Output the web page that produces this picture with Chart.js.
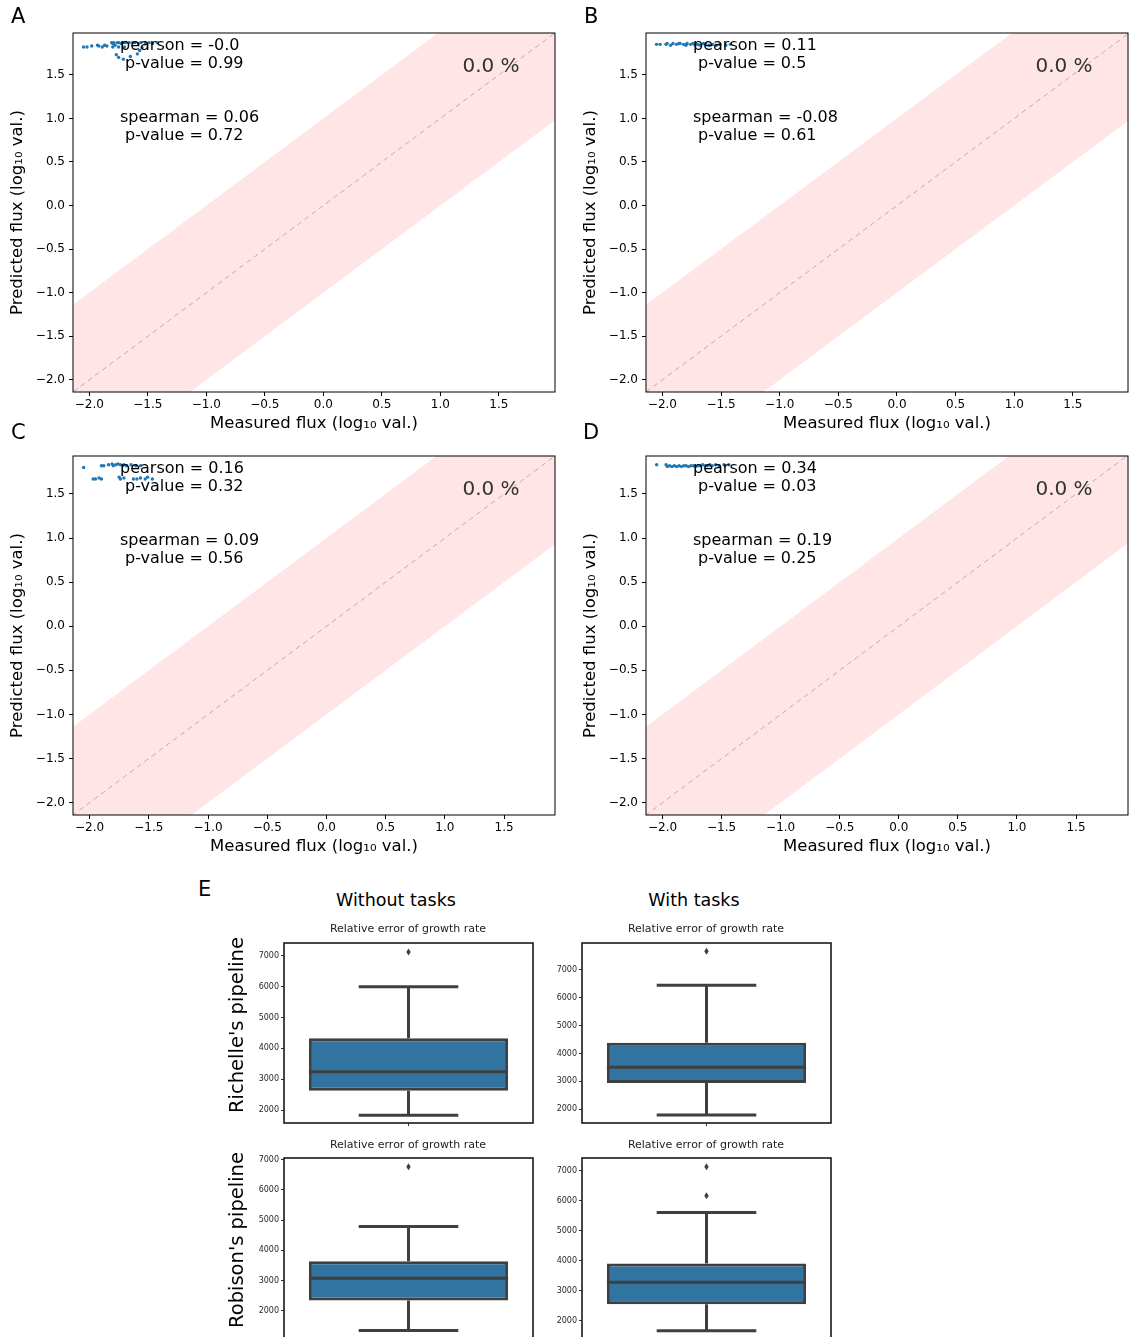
<!DOCTYPE html>
<html>
<head>
<meta charset="utf-8">
<script src="https://cdn.jsdelivr.net/npm/chart.js@4.4.0/dist/chart.umd.min.js"></script>
<style>
    body { margin: 0; background: #fff; font-family: 'DejaVu Sans', sans-serif; }
    #page { position: relative; width: 1129px; height: 1337px; overflow: hidden; background: #fff; }
    canvas { position: absolute; }
    .txt { position: absolute; color: #000; white-space: nowrap; }
    .center { transform: translate(-50%, -50%); }
    .rot { transform: translate(-50%, -50%) rotate(-90deg); }
</style>
</head>
<body>
<div id="page">
    <canvas id="chartA" width="565" height="440" style="left:0;top:0"></canvas>
    <canvas id="chartB" width="565" height="440" style="left:573px;top:0"></canvas>
    <canvas id="chartC" width="565" height="440" style="left:0;top:423px"></canvas>
    <canvas id="chartD" width="565" height="440" style="left:573px;top:423px"></canvas>

    <canvas id="box1" width="299" height="200" style="left:244px;top:933px"></canvas>
    <canvas id="box2" width="299" height="200" style="left:542px;top:933px"></canvas>
    <canvas id="box3" width="299" height="202" style="left:244px;top:1148px"></canvas>
    <canvas id="box4" width="299" height="202" style="left:542px;top:1148px"></canvas>

    <div class="txt" style="left:11px;top:4px;font-size:21px">A</div>
    <div class="txt" style="left:584px;top:4px;font-size:21px">B</div>
    <div class="txt" style="left:11px;top:420px;font-size:21px">C</div>
    <div class="txt" style="left:583px;top:420px;font-size:21px">D</div>
    <div class="txt" style="left:198px;top:877px;font-size:21px">E</div>

    <div class="txt center" style="left:396px;top:900px;font-size:17.5px">Without tasks</div>
    <div class="txt center" style="left:694px;top:900px;font-size:17.5px">With tasks</div>
    <div class="txt center" style="left:408px;top:928px;font-size:11px;color:#222">Relative error of growth rate</div>
    <div class="txt center" style="left:706px;top:928px;font-size:11px;color:#222">Relative error of growth rate</div>
    <div class="txt center" style="left:408px;top:1144px;font-size:11px;color:#222">Relative error of growth rate</div>
    <div class="txt center" style="left:706px;top:1144px;font-size:11px;color:#222">Relative error of growth rate</div>
    <div class="txt rot" style="left:236px;top:1025px;font-size:19.5px">Richelle's pipeline</div>
    <div class="txt rot" style="left:236px;top:1240px;font-size:19.5px">Robison's pipeline</div>
</div>

<script>
// 坐标轴刻度
const fluxTicks = [-2.0, -1.5, -1.0, -0.5, 0.0, 0.5, 1.0, 1.5];
const boxTicks = [2000, 3000, 4000, 5000, 6000, 7000];

// 各面板坐标范围 [xmin, xmax, ymin, ymax]
const limitsA = [-2.14, 1.98, -2.14, 1.98];
const limitsB = [-2.14, 1.97, -2.14, 1.98];
const limitsC = [-2.14, 1.93, -2.14, 1.93];
const limitsD = [-2.14, 1.94, -2.14, 1.93];

// 误差带：y = x ± 1
const bandEnds = [-3, 3];
const bandHalfWidth = 1;

// 面板 A
const measuredA = [-2.05, -2.02, -1.98, -1.93, -1.92, -1.89, -1.87, -1.85, -1.81, -1.80, -1.79, -1.78, -1.76, -1.75, -1.73, -1.71, -1.69, -1.66, -1.63, -1.61, -1.58, -1.56, -1.52, -1.49, -1.46, -1.42, -1.80, -1.77, -1.75, -1.71, -1.65, -1.59, -1.57, -1.55, -1.75, -1.70];
const predictedA = [1.82, 1.82, 1.83, 1.84, 1.83, 1.82, 1.84, 1.83, 1.87, 1.86, 1.87, 1.84, 1.87, 1.87, 1.86, 1.87, 1.87, 1.87, 1.87, 1.87, 1.86, 1.87, 1.86, 1.87, 1.86, 1.87, 1.82, 1.73, 1.70, 1.68, 1.71, 1.74, 1.78, 1.81, 1.82, 1.82];
const statsA = ['-0.0', '0.99', '0.06', '0.72', '0.0'];

// 面板 B
const measuredB = [-2.05, -2.02, -1.97, -1.96, -1.93, -1.91, -1.88, -1.86, -1.85, -1.82, -1.80, -1.79, -1.76, -1.74, -1.72, -1.70, -1.68, -1.65, -1.63, -1.60, -1.57, -1.54, -1.51, -1.46, -1.42];
const predictedB = [1.85, 1.85, 1.85, 1.86, 1.84, 1.86, 1.85, 1.86, 1.86, 1.85, 1.84, 1.86, 1.85, 1.86, 1.84, 1.85, 1.84, 1.86, 1.85, 1.84, 1.85, 1.84, 1.85, 1.84, 1.85];
const statsB = ['0.11', '0.5', '-0.08', '0.61', '0.0'];

// 面板 C
const measuredC = [-2.05, -1.90, -1.88, -1.84, -1.81, -1.80, -1.78, -1.76, -1.74, -1.71, -1.69, -1.65, -1.61, -1.57, -1.97, -1.95, -1.92, -1.90, -1.75, -1.74, -1.71, -1.63, -1.60, -1.57, -1.53, -1.51, -1.47];
const predictedC = [1.80, 1.82, 1.82, 1.83, 1.84, 1.82, 1.83, 1.84, 1.83, 1.83, 1.82, 1.83, 1.82, 1.82, 1.67, 1.67, 1.68, 1.67, 1.69, 1.67, 1.68, 1.67, 1.67, 1.68, 1.67, 1.69, 1.67];
const statsC = ['0.16', '0.32', '0.09', '0.56', '0.0'];

// 面板 D
const measuredD = [-2.05, -1.97, -1.96, -1.94, -1.92, -1.90, -1.88, -1.86, -1.84, -1.82, -1.80, -1.78, -1.76, -1.74, -1.72, -1.70, -1.68, -1.66, -1.64, -1.62, -1.60, -1.58, -1.55, -1.52, -1.48, -1.44];
const predictedD = [1.83, 1.83, 1.81, 1.82, 1.81, 1.82, 1.81, 1.82, 1.81, 1.82, 1.82, 1.81, 1.82, 1.82, 1.81, 1.82, 1.82, 1.83, 1.82, 1.82, 1.83, 1.82, 1.83, 1.82, 1.83, 1.83];
const statsD = ['0.34', '0.03', '0.19', '0.25', '0.0'];

// 箱线图：Richelle 无/有 tasks，Robison 无/有 tasks
const boxLowWhisker = [1828, 1796, 1339, 1677];
const boxQ1 = [2627, 2945, 2332, 2557];
const boxMedian = [3244, 3506, 3073, 3290];
const boxQ3 = [4328, 4378, 3638, 3910];
const boxHighWhisker = [6003, 6438, 4790, 5610];
const boxOutliers = [[7130], [7655], [6767], [7133, 6167]];
const boxYMin = [1580, 1510, 1027, 1367];
const boxYMax = [7420, 7952, 7056, 7423];

Chart.defaults.font.family = "'DejaVu Sans', sans-serif";
Chart.defaults.color = '#000';

function fmtTick(v) {
    return v.toFixed(1).replace('-', '\u2212');
}

// 坐标框
const framePlugin = {
    id: 'frame',
    afterDraw(chart, args, opts) {
        const a = chart.chartArea;
        const ctx = chart.ctx;
        ctx.save();
        ctx.strokeStyle = opts.color || '#000';
        ctx.lineWidth = opts.width || 1;
        ctx.strokeRect(a.left, a.top, a.right - a.left, a.bottom - a.top);
        ctx.restore();
    }
};

// 相关系数文字
const statsPlugin = {
    id: 'stats',
    afterDatasetsDraw(chart, args, opts) {
        if (!opts.values) return;
        const a = chart.chartArea;
        const ctx = chart.ctx;
        const s = opts.values;
        ctx.save();
        ctx.fillStyle = '#000';
        ctx.font = "16px 'DejaVu Sans'";
        ctx.textAlign = 'left';
        ctx.textBaseline = 'middle';
        ctx.fillText('pearson = ' + s[0], a.left + 47, a.top + 13);
        ctx.fillText(' p-value = ' + s[1], a.left + 47, a.top + 31);
        ctx.fillText('spearman = ' + s[2], a.left + 47, a.top + 85);
        ctx.fillText(' p-value = ' + s[3], a.left + 47, a.top + 103);
        ctx.fillStyle = '#333';
        ctx.font = "20px 'DejaVu Sans'";
        ctx.textAlign = 'center';
        ctx.fillText(s[4] + ' %', a.left + 418, a.top + 34);
        ctx.restore();
    }
};

function makeScatter(id, xs, ys, lim, stats) {
    const points = xs.map((x, i) => ({ x: x, y: ys[i] }));
    const diag = bandEnds.map(v => ({ x: v, y: v }));
    const upper = bandEnds.map(v => ({ x: v, y: v + bandHalfWidth }));
    const lower = bandEnds.map(v => ({ x: v, y: v - bandHalfWidth }));

    const axisCommon = {
        type: 'linear',
        border: { display: false },
        grid: { display: true, drawOnChartArea: false, drawTicks: true, tickLength: 4, tickColor: '#000', tickWidth: 1 },
        ticks: { font: { size: 12 }, color: '#000', callback: v => fmtTick(v), autoSkip: false, maxRotation: 0 }
    };

    new Chart(document.getElementById(id), {
        type: 'scatter',
        data: {
            datasets: [
                { data: points, backgroundColor: '#1f77b4', borderWidth: 0, pointRadius: 1.7 },
                { type: 'line', data: diag, borderColor: 'rgba(0,0,0,0.25)', borderWidth: 1, borderDash: [5, 4], pointRadius: 0, fill: false },
                { type: 'line', data: upper, borderWidth: 0, borderColor: 'rgba(0,0,0,0)', pointRadius: 0, fill: '+1', backgroundColor: 'rgba(255,0,0,0.1)' },
                { type: 'line', data: lower, borderWidth: 0, borderColor: 'rgba(0,0,0,0)', pointRadius: 0, fill: false }
            ]
        },
        options: {
            responsive: false,
            animation: false,
            layout: { padding: { top: 33, right: 10, left: 0, bottom: 0 } },
            plugins: {
                legend: { display: false },
                tooltip: { enabled: false },
                stats: { values: stats },
                frame: { color: '#000', width: 1 }
            },
            scales: {
                x: Object.assign({}, axisCommon, {
                    min: lim[0], max: lim[1],
                    afterBuildTicks: scale => { scale.ticks = fluxTicks.map(v => ({ value: v })); },
                    afterFit: scale => { scale.height = 48; },
                    ticks: Object.assign({}, axisCommon.ticks, { padding: 2 }),
                    title: { display: true, text: 'Measured flux (log\u2081\u2080 val.)', font: { size: 16.5 }, color: '#000', padding: { top: 0, bottom: 6 } }
                }),
                y: Object.assign({}, axisCommon, {
                    min: lim[2], max: lim[3],
                    afterBuildTicks: scale => { scale.ticks = fluxTicks.map(v => ({ value: v })); },
                    afterFit: scale => { scale.width = 73; },
                    ticks: Object.assign({}, axisCommon.ticks, { padding: 4 }),
                    title: { display: true, text: 'Predicted flux (log\u2081\u2080 val.)', font: { size: 16.5 }, color: '#000', padding: { top: 8, bottom: 0 } }
                })
            }
        },
        plugins: [statsPlugin, framePlugin]
    });
}

makeScatter('chartA', measuredA, predictedA, limitsA, statsA);
makeScatter('chartB', measuredB, predictedB, limitsB, statsB);
makeScatter('chartC', measuredC, predictedC, limitsC, statsC);
makeScatter('chartD', measuredD, predictedD, limitsD, statsD);

// 须线、中位数与离群点
const boxPlugin = {
    id: 'boxExtras',
    afterDatasetsDraw(chart, args, opts) {
        const i = opts.index;
        const ctx = chart.ctx;
        const yScale = chart.scales.y;
        const bar = chart.getDatasetMeta(0).data[0];
        const cx = bar.x;
        const half = bar.width / 2;
        const py = v => yScale.getPixelForValue(v);
        ctx.save();
        ctx.strokeStyle = '#3f3f3f';
        ctx.lineWidth = 3;
        ctx.lineCap = 'butt';
        ctx.beginPath();
        // 上须
        ctx.moveTo(cx, py(boxQ3[i])); ctx.lineTo(cx, py(boxHighWhisker[i]));
        ctx.moveTo(cx - half / 2, py(boxHighWhisker[i])); ctx.lineTo(cx + half / 2, py(boxHighWhisker[i]));
        // 下须
        ctx.moveTo(cx, py(boxQ1[i])); ctx.lineTo(cx, py(boxLowWhisker[i]));
        ctx.moveTo(cx - half / 2, py(boxLowWhisker[i])); ctx.lineTo(cx + half / 2, py(boxLowWhisker[i]));
        // 中位数
        ctx.moveTo(cx - half, py(boxMedian[i])); ctx.lineTo(cx + half, py(boxMedian[i]));
        ctx.stroke();
        // 离群点（菱形）
        ctx.fillStyle = '#3f3f3f';
        boxOutliers[i].forEach(v => {
            const y = py(v);
            ctx.beginPath();
            ctx.moveTo(cx, y - 3.5);
            ctx.lineTo(cx + 2.2, y);
            ctx.lineTo(cx, y + 3.5);
            ctx.lineTo(cx - 2.2, y);
            ctx.closePath();
            ctx.fill();
        });
        ctx.restore();
    }
};

function makeBox(id, i) {
    new Chart(document.getElementById(id), {
        type: 'bar',
        data: {
            labels: ['g'],
            datasets: [{
                data: [[boxQ1[i], boxQ3[i]]],
                backgroundColor: '#3274a1',
                borderColor: '#3f3f3f',
                borderWidth: 3,
                borderSkipped: false,
                barPercentage: 0.8,
                categoryPercentage: 1.0
            }]
        },
        options: {
            responsive: false,
            animation: false,
            layout: { padding: { top: 10, right: 10, left: 0, bottom: 0 } },
            plugins: {
                legend: { display: false },
                tooltip: { enabled: false },
                boxExtras: { index: i },
                frame: { color: '#1a1a1a', width: 1.6 }
            },
            scales: {
                x: {
                    border: { display: false },
                    grid: { display: true, offset: false, drawOnChartArea: false, drawTicks: true, tickLength: 3, tickColor: '#333' },
                    ticks: { callback: () => '', padding: 0 },
                    afterFit: scale => { scale.height = 10; }
                },
                y: {
                    min: boxYMin[i], max: boxYMax[i],
                    border: { display: false },
                    grid: { display: true, drawOnChartArea: false, drawTicks: true, tickLength: 3, tickColor: '#333' },
                    ticks: { font: { size: 8 }, color: '#262626', padding: 2, autoSkip: false, callback: v => String(v) },
                    afterBuildTicks: scale => { scale.ticks = boxTicks.map(v => ({ value: v })); },
                    afterFit: scale => { scale.width = 40; }
                }
            }
        },
        plugins: [boxPlugin, framePlugin]
    });
}

makeBox('box1', 0);
makeBox('box2', 1);
makeBox('box3', 2);
makeBox('box4', 3);
</script>
</body>
</html>
